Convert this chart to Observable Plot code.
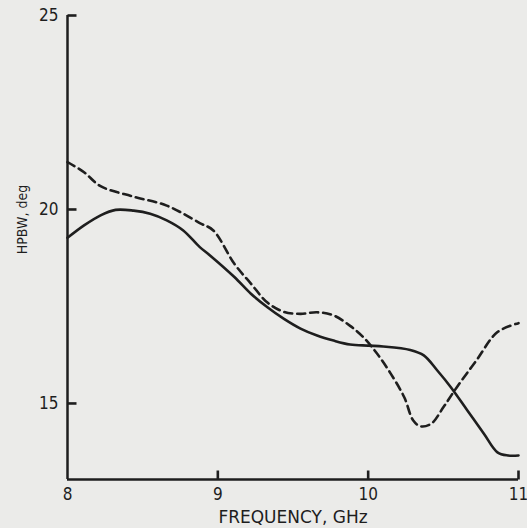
<!DOCTYPE html>
<html>
<head>
<meta charset="utf-8">
<script src="https://cdn.jsdelivr.net/npm/d3@7"></script>
<script src="https://cdn.jsdelivr.net/npm/@observablehq/plot@0.6"></script>
<style>
  html, body { margin: 0; padding: 0; background: #ebebe9; }
  #chart svg { display: block; }
</style>
</head>
<body>
<div id="chart"></div>
<script>
// Frequency (GHz) and HPBW (deg)
const solidFreq = [8.0, 8.11, 8.22, 8.32, 8.44, 8.55, 8.66, 8.77, 8.88, 8.95, 9.11, 9.22, 9.33, 9.44, 9.55, 9.66, 9.77, 9.88, 10.0, 10.1, 10.28, 10.37, 10.46, 10.55, 10.66, 10.77, 10.86, 10.93, 11.0];
const solidHpbw = [19.27, 19.59, 19.85, 19.99, 19.97, 19.89, 19.72, 19.46, 19.03, 18.81, 18.26, 17.83, 17.48, 17.18, 16.93, 16.75, 16.62, 16.52, 16.49, 16.47, 16.38, 16.24, 15.85, 15.42, 14.82, 14.22, 13.74, 13.66, 13.66];
const dashedFreq = [8.0, 8.11, 8.22, 8.44, 8.66, 8.88, 8.97, 9.11, 9.22, 9.33, 9.44, 9.55, 9.66, 9.77, 9.88, 9.97, 10.06, 10.15, 10.24, 10.3, 10.35, 10.42, 10.5, 10.59, 10.72, 10.86, 11.0];
const dashedHpbw = [21.22, 20.96, 20.6, 20.33, 20.1, 19.65, 19.46, 18.6, 18.09, 17.6, 17.36, 17.31, 17.35, 17.27, 17.0, 16.7, 16.28, 15.77, 15.16, 14.56, 14.41, 14.48, 14.9, 15.42, 16.11, 16.84, 17.07];

const xDomain = [8, 11];
const yDomain = [13.04, 25];
const xTicks = [8, 9, 10, 11];
const yTicks = [15, 20, 25];
const xLabel = "FREQUENCY, GHz";
const yLabel = "HPBW, deg";

const solid = solidFreq.map((f, i) => ({f, v: solidHpbw[i]}));
const dashed = dashedFreq.map((f, i) => ({f, v: dashedHpbw[i]}));

const ink = "#1e1e1e";
const font = "'DejaVu Sans Condensed', 'DejaVu Sans', sans-serif";
// custom symbols: short inward tick marks
const tickRight = {draw(context) { context.moveTo(0, 0); context.lineTo(9, 0); }};
const tickUp = {draw(context) { context.moveTo(0, 0); context.lineTo(0, -9); }};

const chart = Plot.plot({
  width: 527,
  height: 528,
  marginLeft: 67,
  marginRight: 9,
  marginTop: 15,
  marginBottom: 49,
  style: {background: "#ebebe9", color: ink, fontFamily: font, fontSize: "17px"},
  x: {domain: xDomain},
  y: {domain: yDomain},
  marks: [
    Plot.ruleX([xDomain[0]], {stroke: ink, strokeWidth: 2.5}),
    Plot.ruleY([yDomain[0]], {stroke: ink, strokeWidth: 2.5}),
    Plot.axisY(yTicks, {tickSize: 0, tickPadding: 9, label: null, fontSize: 17, tickFormat: d => String(d)}),
    Plot.axisX(xTicks, {tickSize: 0, tickPadding: 8, label: null, fontSize: 17, tickFormat: d => String(d)}),
    Plot.line(dashed, {x: "f", y: "v", curve: "catmull-rom", stroke: ink, strokeWidth: 2.6, strokeDasharray: "8,5"}),
    Plot.line(solid, {x: "f", y: "v", curve: "catmull-rom", stroke: ink, strokeWidth: 2.6}),
    Plot.dot(yTicks, {x: () => xDomain[0], y: d => d, symbol: tickRight, r: 4, fill: "none", stroke: ink, strokeWidth: 2.6}),
    Plot.dot(xTicks.slice(1), {x: d => d, y: () => yDomain[0], symbol: tickUp, r: 4, fill: "none", stroke: ink, strokeWidth: 2.6}),
    Plot.text([xLabel], {frameAnchor: "bottom", dy: 43, fontSize: 17, fill: ink, fontFamily: "'DejaVu Sans', sans-serif"}),
    Plot.text([yLabel], {frameAnchor: "left", textAnchor: "middle", dx: -45, dy: -28, rotate: -90, fontSize: 14, fill: ink})
  ]
});
document.getElementById("chart").append(chart);
</script>
</body>
</html>
